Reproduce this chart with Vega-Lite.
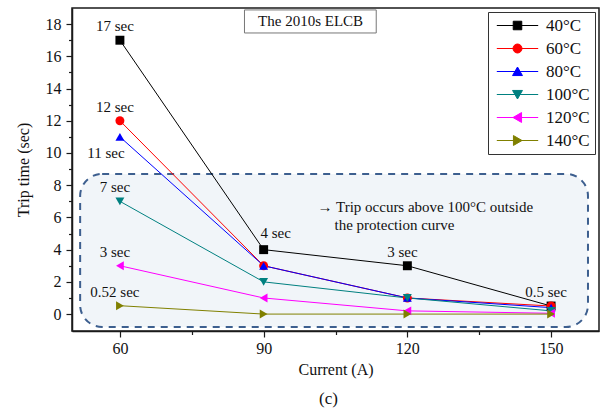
{
  "$schema": "https://vega.github.io/schema/vega-lite/v6.json",
  "width": 527,
  "height": 323,
  "autosize": {"type": "none"},
  "padding": {"left": 72, "top": 8, "right": 3, "bottom": 81},
  "background": "white",
  "config": {
    "font": "Liberation Serif",
    "view": {"stroke": "#1a1a1a", "strokeWidth": 1.5},
    "axis": {
      "grid": false,
      "domainColor": "#1a1a1a",
      "domainWidth": 1.5,
      "tickColor": "#1a1a1a",
      "tickWidth": 1.2,
      "tickSize": 6,
      "tickCount": 40,
      "format": "d",
      "labelFont": "Liberation Serif",
      "labelFontSize": 16,
      "labelColor": "#111111",
      "titleFont": "Liberation Serif",
      "titleFontSize": 16,
      "titleFontWeight": "normal",
      "titleColor": "#111111"
    },
    "legend": {
      "title": null,
      "orient": "top-right",
      "offset": 4,
      "padding": 5,
      "strokeColor": "#333333",
      "fillColor": "white",
      "labelFont": "Liberation Serif",
      "labelFontSize": 17,
      "labelColor": "#111111",
      "symbolSize": 81,
      "symbolOffset": 16,
      "symbolOpacity": 1,
      "symbolStrokeWidth": 1,
      "labelOffset": 20,
      "rowPadding": 5
    }
  },
  "title": {
    "text": "(c)",
    "orient": "bottom",
    "font": "Liberation Serif",
    "fontSize": 17,
    "fontWeight": "normal",
    "color": "#111111",
    "offset": 14,
    "dx": -7
  },
  "datasets": {
    "trips": [
      {"current": 60, "time": 17, "series": "40°C", "label": "17 sec"},
      {"current": 90, "time": 4, "series": "40°C", "label": "4 sec"},
      {"current": 120, "time": 3, "series": "40°C", "label": "3 sec"},
      {"current": 150, "time": 0.5, "series": "40°C", "label": "0.5 sec"},
      {"current": 60, "time": 12, "series": "60°C", "label": "12 sec"},
      {"current": 90, "time": 3, "series": "60°C", "label": null},
      {"current": 120, "time": 1, "series": "60°C", "label": null},
      {"current": 150, "time": 0.5, "series": "60°C", "label": null},
      {"current": 60, "time": 11, "series": "80°C", "label": "11 sec"},
      {"current": 90, "time": 3, "series": "80°C", "label": null},
      {"current": 120, "time": 1, "series": "80°C", "label": null},
      {"current": 150, "time": 0.4, "series": "80°C", "label": null},
      {"current": 60, "time": 7, "series": "100°C", "label": "7 sec"},
      {"current": 90, "time": 2, "series": "100°C", "label": null},
      {"current": 120, "time": 1, "series": "100°C", "label": null},
      {"current": 150, "time": 0.2, "series": "100°C", "label": null},
      {"current": 60, "time": 3, "series": "120°C", "label": "3 sec"},
      {"current": 90, "time": 1, "series": "120°C", "label": null},
      {"current": 120, "time": 0.2, "series": "120°C", "label": null},
      {"current": 150, "time": 0.05, "series": "120°C", "label": null},
      {"current": 60, "time": 0.52, "series": "140°C", "label": "0.52 sec"},
      {"current": 90, "time": 0, "series": "140°C", "label": null},
      {"current": 120, "time": 0, "series": "140°C", "label": null},
      {"current": 150, "time": 0, "series": "140°C", "label": null}
    ]
  },
  "resolve": {"axis": {"x": "independent", "y": "independent"}},
  "layer": [
    {
      "description": "Shaded region with a dashed rounded border; its axes carry the minor ticks",
      "data": {"values": [{"left": 51.7, "right": 157.7, "low": -0.8, "high": 8.7}]},
      "mark": {"type": "rect", "fill": "#f1f5f9", "stroke": "#3d5f8f", "strokeWidth": 2, "strokeDash": [7, 6], "cornerRadius": 22},
      "encoding": {
        "x": {"field": "left", "type": "quantitative", "scale": {"domain": [50, 160], "nice": false, "zero": false},
          "title": null,
          "axis": {"orient": "bottom", "values": [75, 105, 135], "tickCount": 40, "labels": false, "domain": false, "ticks": true, "tickSize": 3.5, "grid": false}},
        "x2": {"field": "right"},
        "y": {"field": "low", "type": "quantitative", "scale": {"domain": [-1.05, 19], "nice": false, "zero": false},
          "title": null,
          "axis": {"orient": "left", "values": [1, 3, 5, 7, 9, 11, 13, 15, 17], "tickCount": 40, "labels": false, "domain": false, "ticks": true, "tickSize": 3.5, "grid": false}},
        "y2": {"field": "high"}
      }
    },
    {
      "layer": [
        {
          "data": {"name": "trips"},
          "mark": {
            "type": "line",
            "strokeWidth": 1,
            "stroke": {"expr": "['#000000', '#ff0000', '#0000ff', '#008080', '#ff00ff', '#808000'][indexof(['40°C', '60°C', '80°C', '100°C', '120°C', '140°C'], datum.series)]"}
          },
          "encoding": {
            "x": {"field": "current", "type": "quantitative", "scale": {"domain": [50, 160], "nice": false, "zero": false},
              "title": "Current (A)",
              "axis": {"orient": "bottom", "values": [60, 90, 120, 150], "tickCount": 40, "format": "d", "labelPadding": 3, "titlePadding": 5}},
            "y": {"field": "time", "type": "quantitative", "scale": {"domain": [-1.05, 19], "nice": false, "zero": false},
              "title": "Trip time (sec)",
              "axis": {"orient": "left", "values": [0, 2, 4, 6, 8, 10, 12, 14, 16, 18], "tickCount": 40, "format": "d", "labelOverlap": false, "labelPadding": 5, "titlePadding": 14}},
            "detail": {"field": "series"}
          }
        },
        {
          "description": "Caption box",
          "data": {"values": [{"left": 86.0, "right": 113.5, "low": 17.45, "high": 18.88}]},
          "mark": {"type": "rect", "fill": "white", "stroke": "#777777", "strokeWidth": 1},
          "encoding": {
            "x": {"field": "left", "type": "quantitative", "scale": {"domain": [50, 160], "nice": false, "zero": false}, "title": "Current (A)"},
            "x2": {"field": "right"},
            "y": {"field": "low", "type": "quantitative", "scale": {"domain": [-1.05, 19], "nice": false, "zero": false}, "title": "Trip time (sec)"},
            "y2": {"field": "high"}
          }
        },
        {
          "data": {"values": [{"cx": 99.8, "cy": 18.17, "caption": "The 2010s ELCB"}]},
          "mark": {"type": "text", "font": "Liberation Serif", "fontSize": 15, "color": "#111111", "align": "center", "baseline": "middle"},
          "encoding": {
            "x": {"field": "cx", "type": "quantitative", "scale": {"domain": [50, 160], "nice": false, "zero": false}, "title": "Current (A)"},
            "y": {"field": "cy", "type": "quantitative", "scale": {"domain": [-1.05, 19], "nice": false, "zero": false}, "title": "Trip time (sec)"},
            "text": {"field": "caption"}
          }
        },
        {
          "data": {"values": [
            {"nx": 101.25, "ny": 6.66, "note": "→ Trip occurs above 100°C outside"},
            {"nx": 104.8, "ny": 5.53, "note": "the protection curve"}
          ]},
          "mark": {"type": "text", "font": "Liberation Serif", "fontSize": 15, "color": "#111111", "align": "left", "baseline": "middle"},
          "encoding": {
            "x": {"field": "nx", "type": "quantitative", "scale": {"domain": [50, 160], "nice": false, "zero": false}, "title": "Current (A)"},
            "y": {"field": "ny", "type": "quantitative", "scale": {"domain": [-1.05, 19], "nice": false, "zero": false}, "title": "Trip time (sec)"},
            "text": {"field": "note"}
          }
        },
        {
          "description": "Legend source: line-and-marker symbols from a shape scale; the marks themselves are transparent",
          "data": {"name": "trips"},
          "mark": {"type": "point", "filled": true, "size": 80, "opacity": 0},
          "encoding": {
            "x": {"field": "current", "type": "quantitative", "scale": {"domain": [50, 160], "nice": false, "zero": false}, "title": "Current (A)"},
            "y": {"field": "time", "type": "quantitative", "scale": {"domain": [-1.05, 19], "nice": false, "zero": false}, "title": "Trip time (sec)"},
            "color": {
              "field": "series", "type": "nominal",
              "scale": {"domain": ["40°C", "60°C", "80°C", "100°C", "120°C", "140°C"], "range": ["#000000", "#ff0000", "#0000ff", "#008080", "#ff00ff", "#808000"]}
            },
            "stroke": {
              "field": "series", "type": "nominal",
              "scale": {"domain": ["40°C", "60°C", "80°C", "100°C", "120°C", "140°C"], "range": ["#000000", "#ff0000", "#0000ff", "#008080", "#ff00ff", "#808000"]}
            },
            "shape": {
              "field": "series", "type": "nominal",
              "scale": {
                "domain": ["40°C", "60°C", "80°C", "100°C", "120°C", "140°C"],
                "range": [
                  "M-4.6,0H4.6M-0.95,-0.95H0.95V0.95H-0.95Z",
                  "M-4.6,0H4.6M1,0A1,1,0,1,1,-1,0A1,1,0,1,1,1,0Z",
                  "M-4.6,0H4.6M0,-1L1.1,0.9L-1.1,0.9Z",
                  "M-4.6,0H4.6M0,1L1.1,-0.9L-1.1,-0.9Z",
                  "M-4.6,0H4.6M-1,0L0.9,-1.1L0.9,1.1Z",
                  "M-4.6,0H4.6M1,0L-0.9,-1.1L-0.9,1.1Z"
                ]
              }
            }
          }
        },
        {
          "data": {"name": "trips"},
          "mark": {
            "type": "point",
            "filled": true,
            "size": 80,
            "opacity": 1,
            "shape": {"expr": "['square', 'circle', 'triangle-up', 'triangle-down', 'triangle-left', 'triangle-right'][indexof(['40°C', '60°C', '80°C', '100°C', '120°C', '140°C'], datum.series)]"}
          },
          "encoding": {
            "x": {"field": "current", "type": "quantitative", "scale": {"domain": [50, 160], "nice": false, "zero": false}, "title": "Current (A)"},
            "y": {"field": "time", "type": "quantitative", "scale": {"domain": [-1.05, 19], "nice": false, "zero": false}, "title": "Trip time (sec)"},
            "color": {
              "field": "series", "type": "nominal",
              "scale": {"domain": ["40°C", "60°C", "80°C", "100°C", "120°C", "140°C"], "range": ["#000000", "#ff0000", "#0000ff", "#008080", "#ff00ff", "#808000"]}
            }
          }
        },
        {
          "data": {"name": "trips"},
          "transform": [{"filter": "datum.label != null && datum.label != '11 sec' && datum.label != '4 sec'"}],
          "mark": {"type": "text", "font": "Liberation Serif", "fontSize": 15, "color": "#111111", "align": "center", "baseline": "middle", "dx": -5, "dy": -14},
          "encoding": {
            "x": {"field": "current", "type": "quantitative", "scale": {"domain": [50, 160], "nice": false, "zero": false}, "title": "Current (A)"},
            "y": {"field": "time", "type": "quantitative", "scale": {"domain": [-1.05, 19], "nice": false, "zero": false}, "title": "Trip time (sec)"},
            "text": {"field": "label"}
          }
        },
        {
          "data": {"name": "trips"},
          "transform": [{"filter": "datum.label == '11 sec'"}],
          "mark": {"type": "text", "font": "Liberation Serif", "fontSize": 15, "color": "#111111", "align": "center", "baseline": "middle", "dx": -14, "dy": 16},
          "encoding": {
            "x": {"field": "current", "type": "quantitative", "scale": {"domain": [50, 160], "nice": false, "zero": false}, "title": "Current (A)"},
            "y": {"field": "time", "type": "quantitative", "scale": {"domain": [-1.05, 19], "nice": false, "zero": false}, "title": "Trip time (sec)"},
            "text": {"field": "label"}
          }
        },
        {
          "data": {"name": "trips"},
          "transform": [{"filter": "datum.label == '4 sec'"}],
          "mark": {"type": "text", "font": "Liberation Serif", "fontSize": 15, "color": "#111111", "align": "center", "baseline": "middle", "dx": 12, "dy": -17},
          "encoding": {
            "x": {"field": "current", "type": "quantitative", "scale": {"domain": [50, 160], "nice": false, "zero": false}, "title": "Current (A)"},
            "y": {"field": "time", "type": "quantitative", "scale": {"domain": [-1.05, 19], "nice": false, "zero": false}, "title": "Trip time (sec)"},
            "text": {"field": "label"}
          }
        }
      ]
    }
  ]
}
